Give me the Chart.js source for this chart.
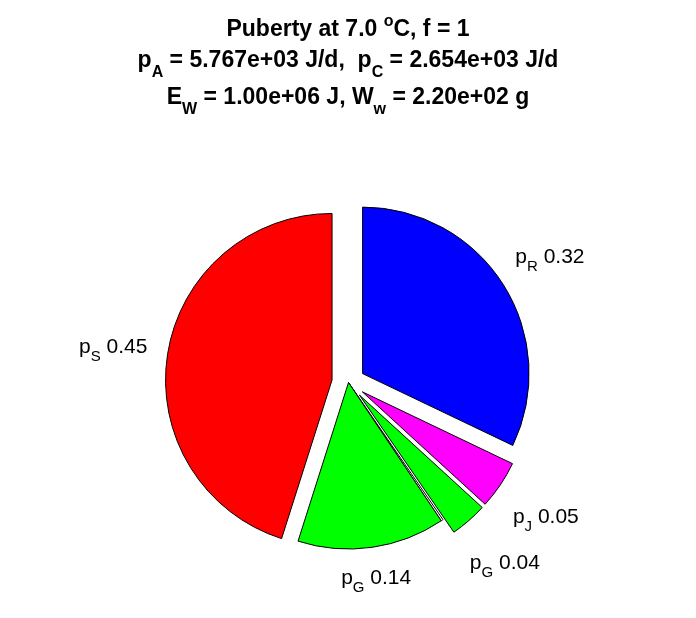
<!DOCTYPE html>
<html>
<head>
<meta charset="utf-8">
<script src="https://cdn.jsdelivr.net/npm/chart.js@4/dist/chart.umd.min.js"></script>
<style>
  body { margin: 0; background: #fff; }
  #grafica { display: block; background: #fff; }
</style>
</head>
<body>
<canvas id="grafica" width="696" height="618"></canvas>
<script>
// Datos de la grafica (en sentido horario desde arriba)
var nombres = ['p_{R}', 'p_{J}', 'p_{G}', '', 'p_{G}', 'p_{S}'];
var fracciones = [0.321, 0.047, 0.036, 0.002, 0.143, 0.451];
var colores = ['#0000ff', '#ff00ff', '#00ff00', '#ffffff', '#00ff00', '#ff0000'];
var separado = [true, true, true, false, false, true];

// Titulo, con _{} para subindice y ^{} para superindice
var lineasTitulo = [
  'Puberty at 7.0 ^{o}C, f = 1',
  'p_{A} = 5.767e+03 J/d,  p_{C} = 2.654e+03 J/d',
  'E_{W} = 1.00e+06 J, W_{w} = 2.20e+02 g'
];

var FUENTE = '"Liberation Sans", Arial, Helvetica, sans-serif';

// Separa un texto tipo TeX en trozos normales / sub / sup
function partirTexto(texto) {
  var partes = [];
  var re = /([_^])\{([^}]*)\}/g;
  var ultimo = 0, m;
  while ((m = re.exec(texto)) !== null) {
    if (m.index > ultimo) partes.push({ t: texto.slice(ultimo, m.index), modo: '' });
    partes.push({ t: m[2], modo: m[1] === '_' ? 'sub' : 'sup' });
    ultimo = re.lastIndex;
  }
  if (ultimo < texto.length) partes.push({ t: texto.slice(ultimo), modo: '' });
  return partes;
}

// Dibuja el texto centrado en x, con la linea base en y
function textoRico(ctx, texto, x, y, est) {
  var partes = partirTexto(texto);
  var total = 0;
  partes.forEach(function (p) {
    ctx.font = est.peso + ' ' + (p.modo ? est.tamSub : est.tam) + 'px ' + FUENTE;
    p.ancho = ctx.measureText(p.t).width;
    total += p.ancho;
  });
  var cx = x - total / 2;
  ctx.textAlign = 'left';
  ctx.textBaseline = 'alphabetic';
  ctx.fillStyle = '#000';
  partes.forEach(function (p) {
    ctx.font = est.peso + ' ' + (p.modo ? est.tamSub : est.tam) + 'px ' + FUENTE;
    var dy = p.modo === 'sub' ? est.bajar : (p.modo === 'sup' ? -est.subir : 0);
    ctx.fillText(p.t, cx, y + dy);
    cx += p.ancho;
  });
}

// Rebanadas separadas del centro (como explode de MATLAB)
var pluginSeparar = {
  id: 'separar',
  beforeDatasetDraw: function (chart, args) {
    var ctx = chart.ctx;
    args.meta.data.forEach(function (arco, i) {
      var medio = (arco.startAngle + arco.endAngle) / 2;
      var d = separado[i] ? arco.outerRadius * 0.1 : 0;
      ctx.save();
      ctx.translate(Math.cos(medio) * d, Math.sin(medio) * d);
      arco.draw(ctx);
      ctx.restore();
    });
    return false;
  }
};

// Etiquetas de cada rebanada y titulo
var pluginTextos = {
  id: 'textos',
  afterDraw: function (chart) {
    var ctx = chart.ctx;
    ctx.save();
    var estTitulo = { peso: 'bold', tam: 23, tamSub: 16, bajar: 10, subir: 10 };
    var bases = [36, 67, 104];
    lineasTitulo.forEach(function (linea, i) {
      textoRico(ctx, linea, 348, bases[i], estTitulo);
    });

    var estEtiqueta = { peso: 'normal', tam: 21, tamSub: 15, bajar: 8, subir: 8 };
    chart.getDatasetMeta(0).data.forEach(function (arco, i) {
      if (!nombres[i]) return;
      var medio = (arco.startAngle + arco.endAngle) / 2;
      var r = arco.outerRadius * (separado[i] ? 1.43 : 1.18);
      var x = arco.x + Math.cos(medio) * r;
      var y = arco.y + Math.sin(medio) * r;
      var texto = nombres[i] + ' ' + fracciones[i].toFixed(2);
      textoRico(ctx, texto, x, y + 7, estEtiqueta);
    });
    ctx.restore();
  }
};

var lienzo = document.getElementById('grafica').getContext('2d');
new Chart(lienzo, {
  type: 'pie',
  data: {
    labels: nombres,
    datasets: [{
      data: fracciones,
      backgroundColor: colores,
      borderColor: '#000000',
      borderWidth: 1,
      radius: 166.5
    }]
  },
  options: {
    responsive: false,
    animation: false,
    layout: { padding: { top: 180, bottom: 33, left: 20, right: 19 } },
    plugins: {
      legend: { display: false },
      tooltip: { enabled: false },
      title: { display: false }
    }
  },
  plugins: [pluginSeparar, pluginTextos]
});
</script>
</body>
</html>
